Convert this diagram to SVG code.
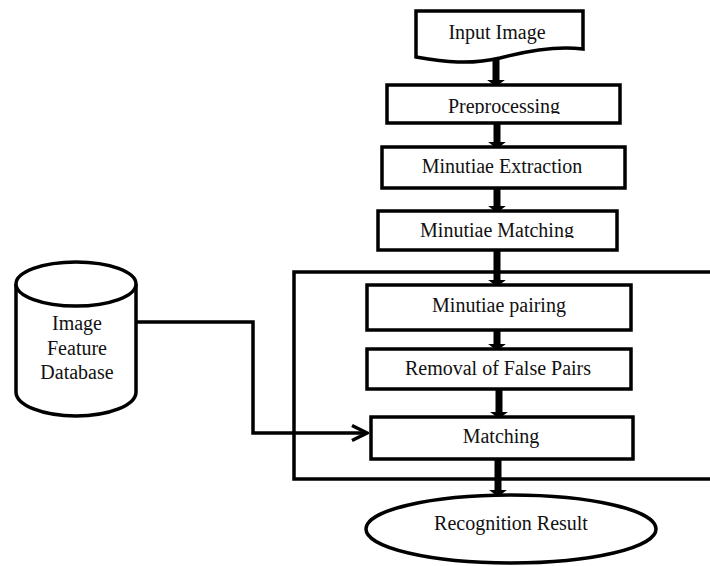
<svg xmlns="http://www.w3.org/2000/svg" width="710" height="566" viewBox="0 0 710 566">
<style>
.box{fill:#fff;stroke:#000;stroke-width:3.5}
.t{font-family:"Liberation Serif","Times New Roman",serif;font-size:20px;fill:#111;text-anchor:middle}
.thick{fill:none;stroke:#000;stroke-width:7}
.thin{fill:none;stroke:#000;stroke-width:3.5}
</style>
<defs>
<marker id="ah" markerUnits="userSpaceOnUse" markerWidth="10" markerHeight="20" refX="0" refY="0" viewBox="0 -9 8 18" orient="auto">
<path d="M0,-8 L6,0 L0,8 Z" fill="#000"/>
</marker>
<marker id="oa" markerUnits="userSpaceOnUse" markerWidth="20" markerHeight="20" refX="0" refY="0" viewBox="-18 -10 20 20" orient="auto">
<path d="M-15,-7.5 L0,0 L-15,7.5" fill="none" stroke="#000" stroke-width="3.5"/>
</marker>
<clipPath id="c1"><rect x="380" y="85" width="250" height="29"/></clipPath>
<clipPath id="c2"><rect x="370" y="210" width="260" height="28"/></clipPath>
</defs>
<g id="container">
<path class="thin" d="M720,272 H294 V479 H720"/>
</g>
<g id="connectors">
<path class="thick" d="M496,60 V80" marker-end="url(#ah)"/>
<path class="thick" d="M497,123 V142" marker-end="url(#ah)"/>
<path class="thick" d="M497,188 V206" marker-end="url(#ah)"/>
<path class="thick" d="M497,250 V280" marker-end="url(#ah)"/>
<path class="thick" d="M497,330 V344" marker-end="url(#ah)"/>
<path class="thick" d="M499,389 V412" marker-end="url(#ah)"/>
<path class="thick" d="M498,459 V490" marker-end="url(#ah)"/>
<path class="thin" d="M137,322 H253 V433 H367" marker-end="url(#oa)"/>
</g>
<g id="input-image">
<path class="box" d="M416,57 V11 H583 V49 C560,46 530,50 500,58 C470,65 445,62 416,57 Z"/>
<text class="t" x="497" y="39">Input Image</text>
</g>
<g id="preprocessing">
<rect class="box" x="387" y="85" width="233" height="38"/>
<text class="t" x="504" y="113" clip-path="url(#c1)">Preprocessing</text>
</g>
<g id="minutiae-extraction">
<rect class="box" x="382" y="147" width="243" height="41"/>
<text class="t" x="502" y="173">Minutiae Extraction</text>
</g>
<g id="minutiae-matching">
<rect class="box" x="378" y="211" width="239" height="39"/>
<text class="t" x="497" y="237" clip-path="url(#c2)">Minutiae Matching</text>
</g>
<g id="minutiae-pairing">
<rect class="box" x="367" y="285" width="264" height="45"/>
<text class="t" x="499" y="312">Minutiae pairing</text>
</g>
<g id="removal">
<rect class="box" x="367" y="349" width="264" height="40"/>
<text class="t" x="498" y="375">Removal of False Pairs</text>
</g>
<g id="matching">
<rect class="box" x="371" y="417" width="262" height="42"/>
<text class="t" x="501" y="443">Matching</text>
</g>
<g id="recognition-result">
<ellipse class="box" cx="511" cy="529" rx="145" ry="34"/>
<text class="t" x="511" y="530">Recognition Result</text>
</g>
<g id="database">
<path class="box" d="M16,284 V392 A60,24 0 0 0 136,392 V284"/>
<ellipse class="box" cx="76" cy="284" rx="60" ry="22"/>
<text class="t" x="77" y="330">Image</text>
<text class="t" x="77" y="355">Feature</text>
<text class="t" x="77" y="379">Database</text>
</g>
</svg>
